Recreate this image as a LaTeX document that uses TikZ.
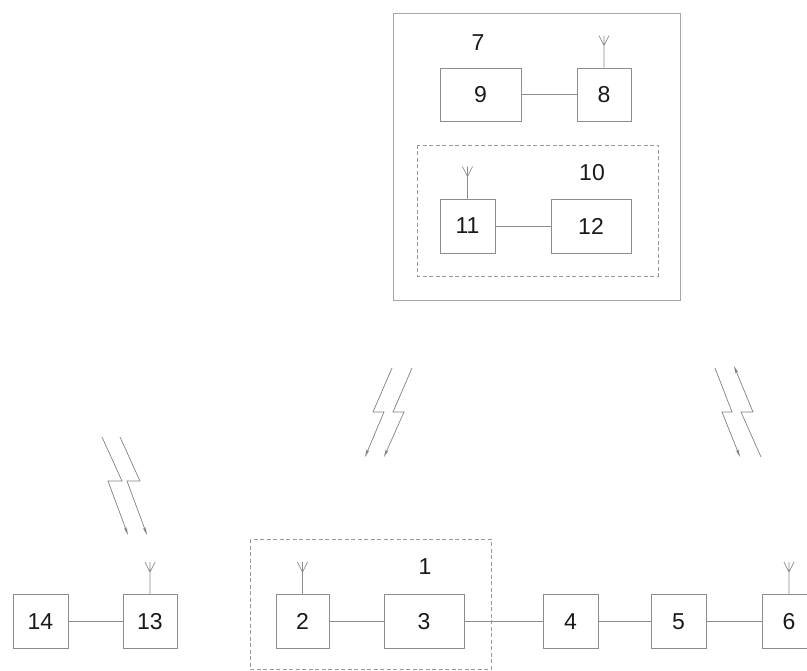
\documentclass[tikz,border=0pt]{standalone}
\usepackage{fontspec}
\setmainfont{Liberation Sans}
\usetikzlibrary{arrows.meta}
\begin{document}
\begin{tikzpicture}[x=1pt,y=-1pt,
  line/.style={draw=black!45,line width=0.8pt},
  blk/.style={rectangle,draw=black!45,line width=0.8pt,minimum height=54pt,inner sep=0pt,
    font=\fontsize{23}{27}\selectfont,text=black!90},
  narrow/.style={blk,minimum width=54pt},
  wide/.style={blk,minimum width=80pt},
  frame/.style={draw=black!35,line width=0.8pt},
  dashframe/.style={draw=black!40,line width=0.8pt,dash pattern=on 4pt off 2.5pt},
  lbl/.style={font=\fontsize{23}{27}\selectfont,text=black!90,inner sep=0pt},
  bolt/.style={draw=black!50,line width=0.7pt},
  tip/.style={-{Stealth[length=8pt,width=3pt]}},
  backtip/.style={{Stealth[length=8pt,width=3pt]}-},
]
\useasboundingbox (0,0) rectangle (807,671);

% station 7 with its receiver part 10
\draw[frame] (393,13) rectangle (680,300);
\draw[dashframe] (417,145) rectangle (658,276);
\node[lbl] (l7) at (478,43) {7};
\node[lbl] (l10) at (592,173) {10};
\node[blk,minimum width=81pt,minimum height=53pt] (b9) at (480.5,94.5) {9};
\node[narrow,minimum height=53pt] (b8) at (604,94.5) {8};
\node[narrow,minimum width=55pt] (b11) at (467.5,226) {11};
\node[wide] (b12) at (591,226) {12};

% unit 1 and the chain along the bottom
\draw[dashframe] (250,539) rectangle (491,669);
\node[lbl] (l1) at (425,567) {1};
\node[narrow,minimum width=55pt] (b14) at (40.5,621.5) {14};
\node[narrow] (b13) at (150,621.5) {13};
\node[narrow,minimum width=53pt] (b2) at (302.5,621.5) {2};
\node[wide] (b3) at (424,621.5) {3};
\node[narrow,minimum width=55pt] (b4) at (570.5,621.5) {4};
\node[narrow,minimum width=55pt] (b5) at (678.5,621.5) {5};
\node[narrow] (b6) at (789,621.5) {6};

% links
\draw[line] (b9) -- (b8);
\draw[line] (b11) -- (b12);
\draw[line] (b14) -- (b13);
\draw[line] (b2) -- (b3);
\draw[line] (b3) -- (b4);
\draw[line] (b4) -- (b5);
\draw[line] (b5) -- (b6);

% antennas
\foreach \b in {b8,b11,b13,b2,b6}{
  \draw[line,line width=0.7pt] (\b.north) -- ++(0,-32)
    (\b.north) ++(0,-22) -- ++(-5,-10)
    (\b.north) ++(0,-22) -- ++(5,-10);
}

% radio links: lightning arrows
\coordinate (ma1) at (392,368); \coordinate (mb1) at (365,457);
\coordinate (ma2) at (412,368); \coordinate (mb2) at (384,457);
\draw[bolt,tip] (ma1) -- (373,412) -- (384,412) -- (mb1);
\draw[bolt,tip] (ma2) -- (393,412) -- (404,412) -- (mb2);

\coordinate (ra1) at (715,368); \coordinate (rb1) at (740,457);
\coordinate (ra2) at (734,366); \coordinate (rb2) at (761,457);
\draw[bolt,tip] (ra1) -- (732,412) -- (722,412) -- (rb1);
\draw[bolt,backtip] (ra2) -- (753,412) -- (741,412) -- (rb2);

\coordinate (la1) at (102,437); \coordinate (lb1) at (128,535);
\coordinate (la2) at (120,437); \coordinate (lb2) at (147,535);
\draw[bolt,tip] (la1) -- (122,481) -- (108,481) -- (lb1);
\draw[bolt,tip] (la2) -- (140,481) -- (127,481) -- (lb2);
\end{tikzpicture}
\end{document}
